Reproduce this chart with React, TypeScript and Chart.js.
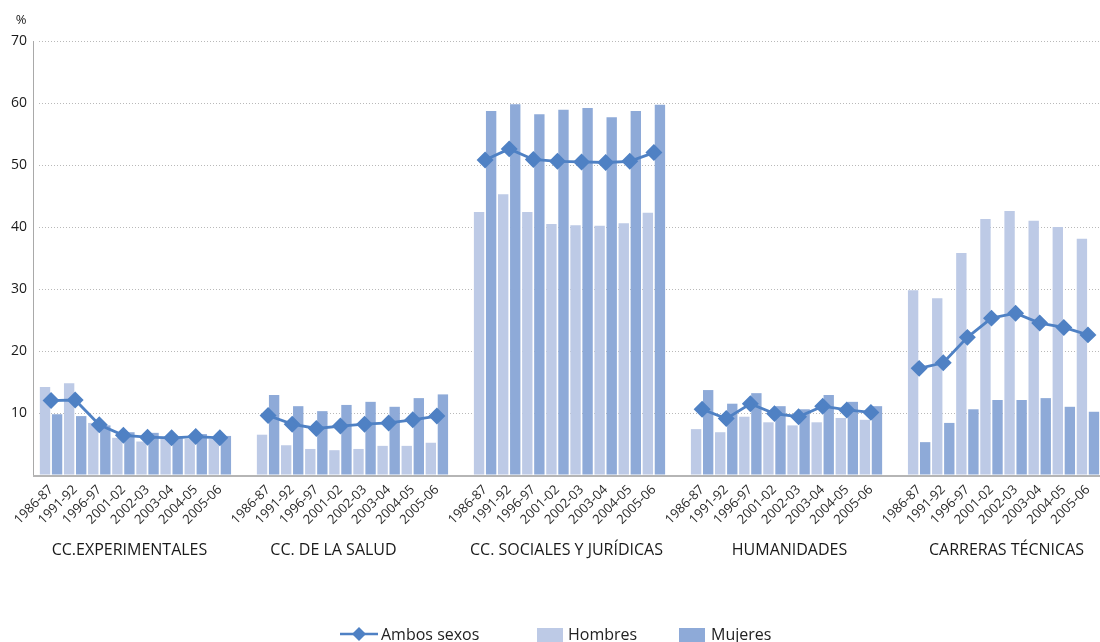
import React, { useEffect, useRef } from 'react';
import { Chart, registerables } from 'chart.js';

Chart.register(...registerables);

const groups = ['CC.EXPERIMENTALES', 'CC. DE LA SALUD', 'CC. SOCIALES Y JURÍDICAS', 'HUMANIDADES', 'CARRERAS TÉCNICAS'];
const years = ['1986-87', '1991-92', '1996-97', '2001-02', '2002-03', '2003-04', '2004-05', '2005-06'];
const yTicks = [10, 20, 30, 40, 50, 60, 70];

const hombresExp = [14.2, 14.8, 8.4, 6.0, 5.4, 6.0, 5.8, 5.8];
const hombresSalud = [6.5, 4.8, 4.2, 4.0, 4.2, 4.7, 4.7, 5.2];
const hombresSoc = [42.4, 45.3, 42.4, 40.5, 40.3, 40.2, 40.6, 42.3];
const hombresHum = [7.4, 6.9, 9.4, 8.5, 8.0, 8.5, 9.2, 8.9];
const hombresTec = [29.8, 28.5, 35.8, 41.3, 42.6, 41.0, 40.0, 38.1];

const mujeresExp = [9.8, 9.5, 8.0, 6.9, 6.8, 6.1, 6.6, 6.3];
const mujeresSalud = [12.9, 11.1, 10.3, 11.3, 11.8, 11.0, 12.4, 13.0];
const mujeresSoc = [58.7, 59.8, 58.2, 58.9, 59.2, 57.7, 58.7, 59.7];
const mujeresHum = [13.7, 11.5, 13.2, 11.1, 10.6, 12.9, 11.8, 11.1];
const mujeresTec = [5.3, 8.4, 10.6, 12.1, 12.1, 12.4, 11.0, 10.2];

const ambosExp = [12.0, 12.1, 8.1, 6.4, 6.1, 6.0, 6.2, 6.0];
const ambosSalud = [9.6, 8.2, 7.5, 7.9, 8.2, 8.4, 8.9, 9.5];
const ambosSoc = [50.8, 52.6, 50.9, 50.6, 50.5, 50.4, 50.6, 52.0];
const ambosHum = [10.6, 9.1, 11.5, 9.9, 9.4, 11.1, 10.5, 10.1];
const ambosTec = [17.2, 18.1, 22.2, 25.3, 26.1, 24.5, 23.8, 22.6];

const hombres = [hombresExp, hombresSalud, hombresSoc, hombresHum, hombresTec];
const mujeres = [mujeresExp, mujeresSalud, mujeresSoc, mujeresHum, mujeresTec];
const ambos = [ambosExp, ambosSalud, ambosSoc, ambosHum, ambosTec];

const COLOR_H = '#bdcae6';
const COLOR_M = '#8eaad8';
const COLOR_A = '#4f81c4';
const FONT = '"Open Sans", "Noto Sans", sans-serif';

function flatten(series: number[][]): (number | null)[] {
  const out: (number | null)[] = [];
  series.forEach((g, i) => {
    g.forEach((v) => out.push(v));
    if (i < series.length - 1) out.push(null);
  });
  return out;
}

const labels: string[] = [];
groups.forEach((_, i) => {
  years.forEach((y) => labels.push(y));
  if (i < groups.length - 1) labels.push('');
});

const labelOffsets = [-6, -19, -3, 3, 3];

const decorPlugin = {
  id: 'decor',
  afterDraw(chart: any) {
    const { ctx, chartArea, scales } = chart;
    const x = scales.x;
    ctx.save();
    ctx.strokeStyle = '#a9a9a9';
    ctx.lineWidth = 1;
    ctx.beginPath();
    ctx.moveTo(33.5, chartArea.top);
    ctx.lineTo(33.5, chartArea.bottom);
    ctx.stroke();
    ctx.lineWidth = 2;
    ctx.strokeStyle = '#b5b5b5';
    ctx.beginPath();
    ctx.moveTo(33, chartArea.bottom + 1);
    ctx.lineTo(chartArea.right, chartArea.bottom + 1);
    ctx.stroke();

    ctx.fillStyle = '#222';
    ctx.font = `13px ${FONT}`;
    ctx.textAlign = 'center';
    ctx.textBaseline = 'middle';
    ctx.fillText('%', 21, 20);

    ctx.font = `16px ${FONT}`;
    ctx.fillStyle = '#1a1a1a';
    groups.forEach((g, i) => {
      const start = i * (years.length + 1);
      const end = start + years.length - 1;
      const cx = (x.getPixelForValue(start) + x.getPixelForValue(end)) / 2 + labelOffsets[i];
      ctx.fillText(g, cx, 550);
    });

    const ly = 634;
    ctx.strokeStyle = COLOR_A;
    ctx.lineWidth = 2.5;
    ctx.beginPath();
    ctx.moveTo(340, ly);
    ctx.lineTo(378, ly);
    ctx.stroke();
    ctx.fillStyle = COLOR_A;
    ctx.beginPath();
    ctx.moveTo(359, ly - 7);
    ctx.lineTo(366, ly);
    ctx.lineTo(359, ly + 7);
    ctx.lineTo(352, ly);
    ctx.closePath();
    ctx.fill();
    ctx.fillStyle = COLOR_H;
    ctx.fillRect(537, 628, 26, 14);
    ctx.fillStyle = COLOR_M;
    ctx.fillRect(679, 628, 26, 14);
    ctx.fillStyle = '#222';
    ctx.font = `16px ${FONT}`;
    ctx.textAlign = 'left';
    ctx.fillText('Ambos sexos', 381, ly + 1);
    ctx.fillText('Hombres', 568, ly + 1);
    ctx.fillText('Mujeres', 711, ly + 1);
    ctx.restore();
  },
};

export default function App() {
  const ref = useRef<HTMLCanvasElement | null>(null);
  useEffect(() => {
    document.body.style.margin = '0';
    document.body.style.overflow = 'hidden';
    if (!ref.current) return;
    const chart = new Chart(ref.current, {
      type: 'bar',
      data: {
        labels,
        datasets: [
          {
            type: 'line',
            label: 'Ambos sexos',
            data: flatten(ambos),
            borderColor: COLOR_A,
            backgroundColor: COLOR_A,
            borderWidth: 2.8,
            pointStyle: 'rectRot',
            pointRadius: 6.5,
            pointHoverRadius: 6.5,
            pointBackgroundColor: COLOR_A,
            pointBorderColor: COLOR_A,
            spanGaps: false,
            order: 0,
          } as any,
          {
            label: 'Hombres',
            data: flatten(hombres),
            backgroundColor: COLOR_H,
            barPercentage: 0.86,
            categoryPercentage: 1,
            order: 1,
          },
          {
            label: 'Mujeres',
            data: flatten(mujeres),
            backgroundColor: COLOR_M,
            barPercentage: 0.86,
            categoryPercentage: 1,
            order: 2,
          },
        ],
      },
      options: {
        responsive: false,
        animation: false,
        layout: { autoPadding: false, padding: { top: 41, left: 0, right: 0, bottom: 0 } },
        plugins: {
          legend: { display: false },
          tooltip: { enabled: false },
        },
        scales: {
          x: {
            grid: { display: false, drawTicks: false },
            border: { display: false },
            ticks: {
              autoSkip: false,
              maxRotation: 45,
              minRotation: 45,
              padding: 7,
              color: '#2a2a2a',
              font: { family: FONT, size: 13 },
            },
            afterFit: (s: any) => {
              s.height = 167;
              s.paddingLeft = 0;
              s.paddingRight = 0;
            },
          },
          y: {
            min: 0,
            max: 70,
            afterBuildTicks: (s: any) => {
              s.ticks = [{ value: 0 }, ...yTicks.map((v) => ({ value: v }))];
            },
            ticks: {
              padding: 12,
              color: '#1a1a1a',
              font: { family: FONT, size: 14 },
              callback: (v: any) => (v === 0 ? '' : String(v)),
            },
            grid: {
              drawTicks: false,
              color: (c: any) => (c.tick && c.tick.value === 0 ? 'rgba(0,0,0,0)' : '#b9b9b9'),
              lineWidth: 1,
            },
            border: { display: false, dash: [1, 2] },
            afterFit: (s: any) => {
              s.width = 39;
              s.paddingTop = 0;
            },
          },
        },
      },
      plugins: [decorPlugin],
    });
    return () => chart.destroy();
  }, []);
  return (
    <div style={{ width: 1100, height: 642 }}>
      <canvas ref={ref} width={1100} height={642} style={{ display: 'block' }} />
    </div>
  );
}
